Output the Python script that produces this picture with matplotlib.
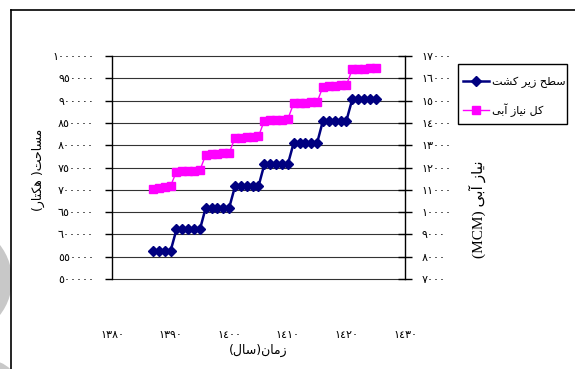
import matplotlib
matplotlib.use("Agg")
import matplotlib.pyplot as plt
from matplotlib.lines import Line2D
from matplotlib.patches import Circle, Rectangle
from matplotlib.transforms import Affine2D

# ---------------------------------------------------------------- data
years = [1387, 1388, 1389, 1390,
         1391, 1392, 1393, 1394, 1395,
         1396, 1397, 1398, 1399, 1400,
         1401, 1402, 1403, 1404, 1405,
         1406, 1407, 1408, 1409, 1410,
         1411, 1412, 1413, 1414, 1415,
         1416, 1417, 1418, 1419, 1420,
         1421, 1422, 1423, 1424, 1425]

# cultivated area (hectares)
area_ha = [563000, 563000, 563000, 563000,
           611000, 611000, 611000, 611000, 611000,
           660000, 660000, 660000, 660000, 660000,
           708000, 708000, 708000, 708000, 708000,
           757000, 757000, 757000, 757000, 757000,
           805000, 805000, 805000, 805000, 805000,
           855000, 855000, 855000, 855000, 855000,
           903000, 903000, 903000, 903000, 903000]

# total irrigation water demand (MCM)
demand_mcm = [11050, 11090, 11130, 11170,
              11820, 11830, 11845, 11860, 11880,
              12570, 12590, 12610, 12640, 12660,
              13330, 13345, 13360, 13380, 13400,
              14100, 14115, 14130, 14150, 14170,
              14870, 14885, 14900, 14920, 14940,
              15620, 15640, 15660, 15680, 15700,
              16400, 16415, 16430, 16450, 16470]

x_ticks = [1380, 1390, 1400, 1410, 1420, 1430]
left_ticks = [500000, 550000, 600000, 650000, 700000, 750000,
              800000, 850000, 900000, 950000, 1000000]
right_ticks = [7000, 8000, 9000, 10000, 11000, 12000,
               13000, 14000, 15000, 16000, 17000]

label_area = "سطح زیر کشت"
label_demand = "کل نیاز آبی"
label_x = "زمان(سال)"
label_left = "مساحت( هکتار)"
label_right = "نیاز آبی"
label_right_unit = "(MCM)"

# ---------------------------------------------------------------- text helpers
_FORMS = {
    'ا': ('\uFE8D', '\uFE8E', None, None),
    'آ': ('\uFE81', '\uFE82', None, None),
    'ب': ('\uFE8F', '\uFE90', '\uFE91', '\uFE92'),
    'ت': ('\uFE95', '\uFE96', '\uFE97', '\uFE98'),
    'ح': ('\uFEA1', '\uFEA2', '\uFEA3', '\uFEA4'),
    'ر': ('\uFEAD', '\uFEAE', None, None),
    'ز': ('\uFEAF', '\uFEB0', None, None),
    'س': ('\uFEB1', '\uFEB2', '\uFEB3', '\uFEB4'),
    'ش': ('\uFEB5', '\uFEB6', '\uFEB7', '\uFEB8'),
    'ط': ('\uFEC1', '\uFEC2', '\uFEC3', '\uFEC4'),
    'ل': ('\uFEDD', '\uFEDE', '\uFEDF', '\uFEE0'),
    'م': ('\uFEE1', '\uFEE2', '\uFEE3', '\uFEE4'),
    'ن': ('\uFEE5', '\uFEE6', '\uFEE7', '\uFEE8'),
    'ه': ('\uFEE9', '\uFEEA', '\uFEEB', '\uFEEC'),
    'ک': ('\uFB8E', '\uFB8F', '\uFB90', '\uFB91'),
    'ی': ('\uFBFC', '\uFBFD', '\uFBFE', '\uFBFF'),
}
_MIRROR = {'(': ')', ')': '('}


def rtl(text):
    """Shape Persian letters into joined forms and return them in visual order."""
    out = []
    n = len(text)
    for i, ch in enumerate(text):
        forms = _FORMS.get(ch)
        if forms is None:
            out.append(_MIRROR.get(ch, ch))
            continue
        prev = _FORMS.get(text[i - 1]) if i > 0 else None
        nxt = _FORMS.get(text[i + 1]) if i < n - 1 else None
        join_prev = prev is not None and prev[2] is not None
        join_next = nxt is not None and forms[2] is not None
        if join_prev and join_next:
            out.append(forms[3])
        elif join_prev:
            out.append(forms[1])
        elif join_next:
            out.append(forms[2])
        else:
            out.append(forms[0])
    return ''.join(reversed(out))


_DIGITS = str.maketrans('0123456789', '٠١٢٣٤٥٦٧٨٩')


def indic(v):
    return str(int(v)).translate(_DIGITS)


# ---------------------------------------------------------------- figure
W, H = 575, 369
fig = plt.figure(figsize=(W / 100, H / 100), dpi=100)
pix = Affine2D().scale(1 / W, -1 / H).translate(0, 1) + fig.transFigure

L, R, T, B = 112, 405, 56, 279
ax = fig.add_axes([L / W, 1 - B / H, (R - L) / W, (B - T) / H])
ax2 = ax.twinx()

arab_font = ['DejaVu Sans']
serif_font = ['Liberation Serif', 'DejaVu Sans']

navy = '#000080'
magenta = '#FF00FF'

h1, = ax.plot(years, area_ha, color=navy, lw=1.8, marker='D', ms=4.8,
              mfc=navy, mec=navy, zorder=3)
h2, = ax2.plot(years, demand_mcm, color=magenta, lw=1.0, marker='s', ms=5.2,
               mfc=magenta, mec=magenta, zorder=3)

ax.set_xlim(1380, 1430)
ax.set_ylim(500000, 1000000)
ax2.set_ylim(7000, 17000)

ax.set_yticks(left_ticks)
ax.set_yticklabels([indic(v) for v in left_ticks], family=arab_font, fontsize=8)
ax2.set_yticks(right_ticks)
ax2.set_yticklabels([indic(v) for v in right_ticks], family=arab_font, fontsize=8)
ax.set_xticks(x_ticks)
ax.set_xticklabels([indic(v) for v in x_ticks], family=arab_font, fontsize=8)

ax.yaxis.grid(True, color='#333333', lw=0.8)
ax.set_axisbelow(True)
for gl in ax.get_ygridlines():
    gl.set_clip_on(False)

for a in (ax, ax2):
    a.patch.set_visible(False)
    for s in ('top', 'bottom'):
        a.spines[s].set_visible(False)
ax.spines['right'].set_visible(False)
ax2.spines['left'].set_visible(False)
ax.spines['left'].set_linewidth(1.0)
ax2.spines['right'].set_linewidth(1.0)

ax.tick_params(axis='y', direction='out', length=5, width=1, pad=8)
ax2.tick_params(axis='y', direction='inout', length=10, width=1, pad=7)
ax.tick_params(axis='x', length=0, pad=37)

# axis titles
fig.text(258 / W, 1 - 350 / H, rtl(label_x), family=arab_font, fontsize=9,
         ha='center', va='center')
fig.text(38 / W, 1 - 170 / H, rtl(label_left), family=arab_font, fontsize=9,
         rotation=90, ha='center', va='center')
fig.text(477 / W, 1 - 209 / H, label_right_unit + ' ' + rtl(label_right),
         family=serif_font, fontsize=11, rotation=90, ha='center', va='center')

# legend: entries without frame, plus a separate box around them
leg = fig.legend([h1, h2], [rtl(label_area), rtl(label_demand)],
                 loc='upper left', bbox_to_anchor=(463 / W, 1 - 77 / H),
                 bbox_transform=fig.transFigure, borderaxespad=0,
                 prop={'family': arab_font, 'size': 8},
                 frameon=False, handlelength=2.3, handletextpad=0.35,
                 labelspacing=1.35, borderpad=0)
fig.add_artist(Rectangle((458, 64), 109, 60, transform=pix, fill=False,
                         edgecolor='black', lw=1.0))

# page frame and margin shading
clip = Rectangle((0, 0), 10.5, H, transform=pix)
for cx, cy, r in [(-45, 280, 57), (-12, 392, 32)]:
    c = Circle((cx, cy), r, transform=pix, color='#c8c8c8', lw=0)
    c.set_clip_path(clip)
    fig.add_artist(c)
fig.add_artist(Line2D([11, W], [10, 10], transform=pix, color='black', lw=1.2))
fig.add_artist(Line2D([11, 11], [10, H], transform=pix, color='black', lw=1.2))

fig.savefig('out.png', dpi=100)
